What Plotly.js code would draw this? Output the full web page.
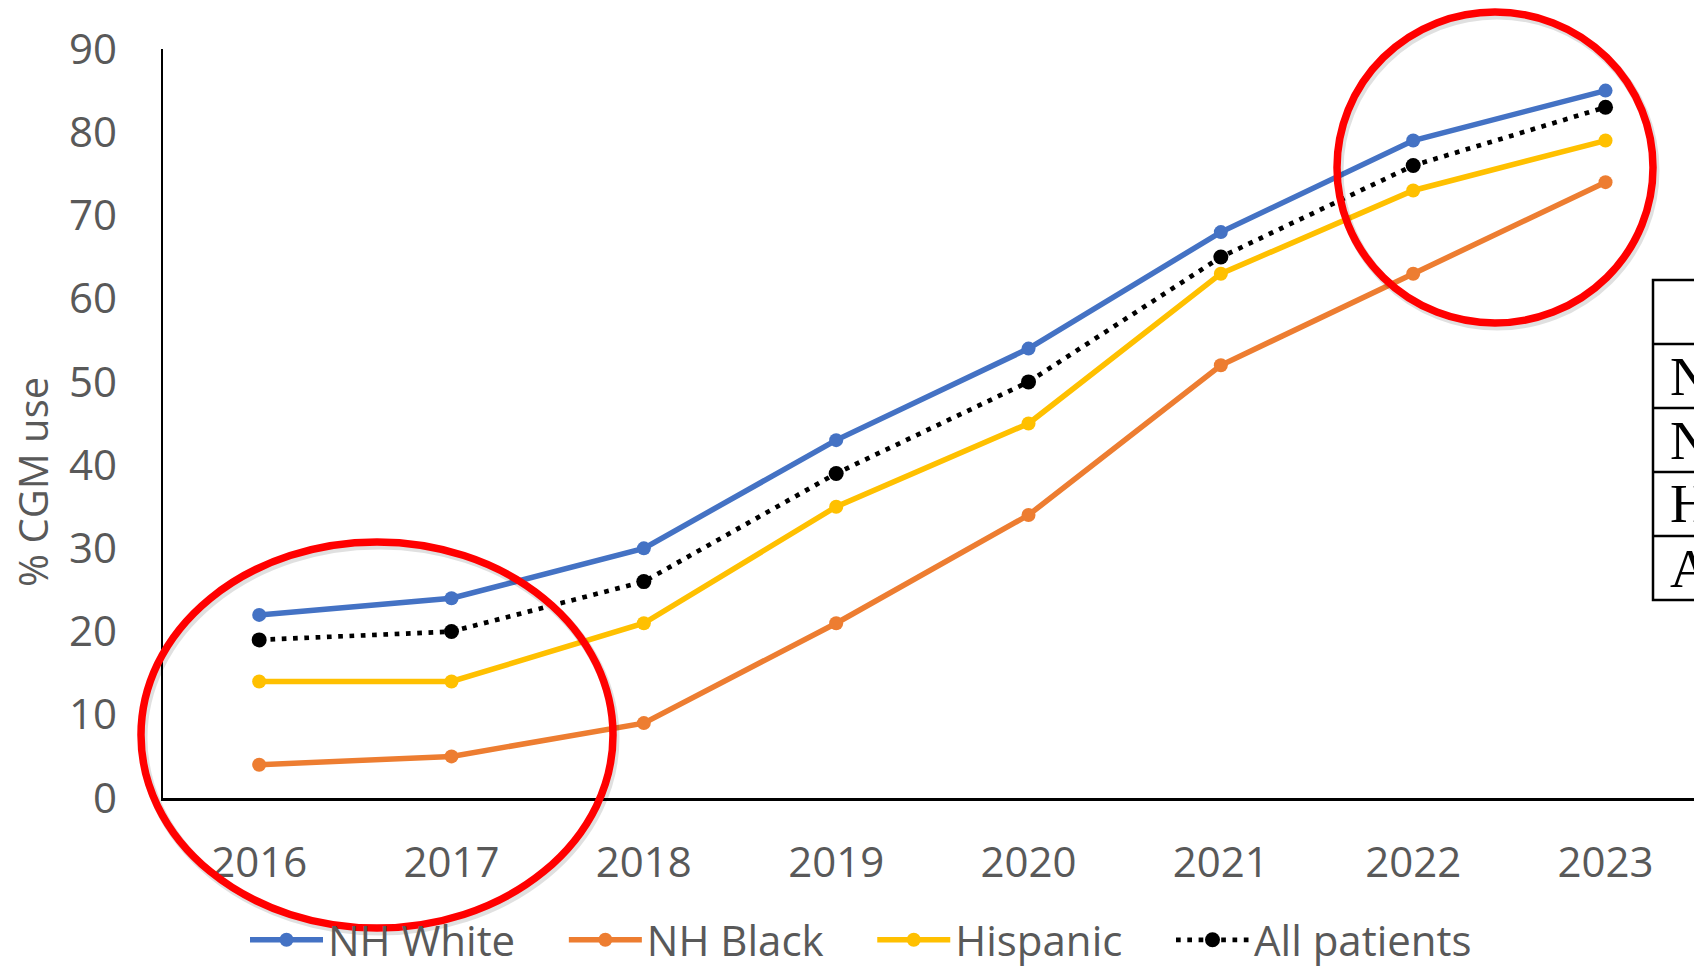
<!DOCTYPE html>
<html>
<head>
<meta charset="utf-8">
<script src="https://cdn.plot.ly/plotly-3.0.1.min.js"></script>
<style>
  html, body { margin: 0; padding: 0; background: #ffffff; }
  #chart { width: 1694px; height: 966px; }
</style>
</head>
<body>
<div id="chart"></div>
<script>
// CGM use by race/ethnicity, 2016-2023 (percent of patients)
const years = ['2016', '2017', '2018', '2019', '2020', '2021', '2022', '2023'];
const nhWhite = [22, 24, 30, 43, 54, 68, 79, 85];
const nhBlack = [4, 5, 9, 21, 34, 52, 63, 74];
const hispanic = [14, 14, 21, 35, 45, 63, 73, 79];
const allPatients = [19, 20, 26, 39, 50, 65, 76, 83];
const seriesNames = ['NH White', 'NH Black', 'Hispanic', 'All patients'];
const tableRows = ['NH White', 'NH Black', 'Hispanic', 'All patients'];

// plot box in page pixels, used to place the highlight rings and side table
const BOX = { l: 163, t: 49, w: 1531, h: 749 };
const px = v => (v - BOX.l) / BOX.w;
const py = v => (BOX.t + BOX.h - v) / BOX.h;

const FONT = 'Open Sans, Lato, sans-serif';
const GREY = '#595959';
// extra room after each legend label
const PAD = '\u00A0\u00A0\u00A0\u00A0';

function series(name, y, color, opts) {
  return Object.assign({
    type: 'scatter',
    mode: 'lines+markers',
    name: name + PAD,
    x: years,
    y: y,
    line: { color: color, width: 5.5 },
    marker: { color: color, size: 14 },
    hoverinfo: 'x+y'
  }, opts || {});
}

const traces = [
  series(seriesNames[0], nhWhite, '#4472C4'),
  series(seriesNames[1], nhBlack, '#ED7D31'),
  series(seriesNames[2], hispanic, '#FFC000'),
  series(seriesNames[3], allPatients, '#000000', {
    line: { color: '#000000', width: 4.7, dash: '4.7px,6.6px' },
    marker: { color: '#000000', size: 15 }
  })
];

function ring(x0, y0, x1, y1) {
  return {
    type: 'circle', xref: 'paper', yref: 'paper', layer: 'above',
    x0: px(x0), x1: px(x1), y0: py(y1), y1: py(y0),
    line: { color: '#FF0000', width: 7.5 }
  };
}
function ringShadow(x0, y0, x1, y1) {
  return {
    type: 'circle', xref: 'paper', yref: 'paper', layer: 'above',
    x0: px(x0 + 2), x1: px(x1 + 2), y0: py(y1 + 3), y1: py(y0 + 3),
    line: { color: 'rgba(0,0,0,0.12)', width: 9 }
  };
}

// side table outline (continues past the right edge of the page)
const tableTop = 280, rowH = 64, tableLeft = 1653;
const shapes = [
  {
    type: 'rect', xref: 'paper', yref: 'paper', layer: 'above',
    x0: px(tableLeft), x1: px(1800), y0: py(tableTop + rowH * 5), y1: py(tableTop),
    line: { color: '#000000', width: 2.5 }
  }
];
for (let i = 1; i < 5; i++) {
  shapes.push({
    type: 'line', xref: 'paper', yref: 'paper', layer: 'above',
    x0: px(tableLeft), x1: px(1800), y0: py(tableTop + rowH * i), y1: py(tableTop + rowH * i),
    line: { color: '#000000', width: 2.5 }
  });
}
shapes.push(ringShadow(141, 542, 613, 928), ring(141, 542, 613, 928));
shapes.push(ringShadow(1337, 12, 1653, 323), ring(1337, 12, 1653, 323));

const annotations = tableRows.map((t, i) => ({
  xref: 'paper', yref: 'paper',
  x: px(1668), y: py(tableTop + rowH * (i + 1.5)),
  xanchor: 'left', yanchor: 'middle',
  text: t, showarrow: false,
  font: { family: 'Liberation Serif, Times New Roman, serif', size: 55, color: '#000000' }
}));

// y-axis title, set a little below the axis midpoint
annotations.push({
  xref: 'paper', yref: 'paper',
  x: px(32), y: py(482),
  xanchor: 'center', yanchor: 'middle',
  textangle: -90,
  text: '% CGM use', showarrow: false,
  font: { family: FONT, size: 40, color: GREY }
});

const layout = {
  width: 1694,
  height: 966,
  margin: { l: BOX.l, r: 1694 - BOX.l - BOX.w, t: BOX.t, b: 966 - BOX.t - BOX.h, autoexpand: false },
  paper_bgcolor: '#ffffff',
  plot_bgcolor: '#ffffff',
  font: { family: FONT, color: GREY, size: 42 },
  showlegend: true,
  legend: {
    orientation: 'h',
    x: px(245), xanchor: 'left',
    y: py(940), yanchor: 'middle',
    itemwidth: 73,
    font: { family: FONT, size: 42, color: GREY },
    bgcolor: 'rgba(0,0,0,0)'
  },
  xaxis: {
    type: 'category',
    range: [-0.5, 7.46],
    showline: true, linecolor: '#000000', linewidth: 2.5,
    showgrid: false, zeroline: false, ticks: '',
    ticklabelstandoff: 26,
    tickfont: { family: FONT, size: 42, color: GREY }
  },
  yaxis: {
    range: [0, 90],
    dtick: 10,
    showline: true, linecolor: '#000000', linewidth: 2.5,
    showgrid: false, zeroline: false, ticks: '',
    ticklabelstandoff: 35,
    tickfont: { family: FONT, size: 42, color: GREY }
  },
  shapes: shapes,
  annotations: annotations
};

Plotly.newPlot('chart', traces, layout, { displayModeBar: false, staticPlot: true });
</script>
</body>
</html>
